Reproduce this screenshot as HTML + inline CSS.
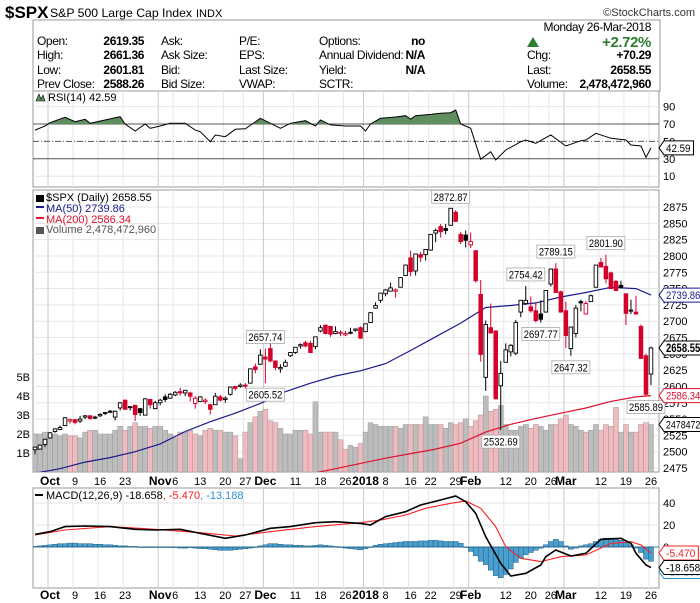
<!DOCTYPE html>
<html><head><meta charset="utf-8"><style>
html,body{margin:0;padding:0;background:#fff;}
svg{display:block;font-family:"Liberation Sans",Arial,sans-serif;}
#header text{letter-spacing:-0.4px;}
</style></head><body>
<svg id="c" width="700" height="603" viewBox="0 0 700 603" xmlns="http://www.w3.org/2000/svg">
<defs>
<clipPath id="mainClip"><rect x="33" y="190" width="626" height="282"/></clipPath>
<clipPath id="rsiClip"><rect x="33" y="91" width="626" height="96"/></clipPath>
<clipPath id="rsiTop"><rect x="33" y="91" width="626" height="33"/></clipPath>
<clipPath id="macdClip"><rect x="33" y="488" width="626" height="100"/></clipPath>
</defs>
<g>
<text x="5" y="18" font-size="17" font-weight="bold">$SPX</text>
<text x="50" y="17" font-size="12" textLength="142" lengthAdjust="spacingAndGlyphs">S&amp;P 500 Large Cap Index</text>
<text x="196" y="17" font-size="11">INDX</text>
<text x="695" y="16" font-size="11" text-anchor="end" fill="#333">©StockCharts.com</text>
</g>
<g id="header">
<rect x="33" y="20" width="627" height="71" fill="#fff" stroke="#999"/>
</g>
<g id="rsi"></g>
<g id="main"></g>
<g id="macd"></g>
</svg>
<script>
const dates=["Sep27","Sep28","Sep29"];
const opens=[2503,2504,2511,
2521,2531,2534,2540,2547,2549,2547,2553,2555,2552,2555,2559,2562,2553,2567,2579,2568,2571,2566,2556,2580,2566,
2575,2584,2582,2587,2592,2590,2590,2574,2577,2577,2572,2572,2584,2580,2588,2600,2600,2602,2605,2630,2634,
2645,2658,2639,2627,2631,2647,2652,2662,2667,2666,2661,2685,2694,2692,2681,2683,2679,2683,2686,2690,
2684,2698,2720,2732,2742,2746,2746,2752,2770,2797,2777,2802,2802,2809,2835,2845,2842,2847,2867,2833,2832,
2817,2808,2741,2614,2690,2685,2601,2637,2653,2651,2714,2727,2722,2716,2711,2714,2757,2780,2745,
2716,2658,2681,2730,2711,2730,2752,2790,2784,2774,2761,2755,2742,2716,2714,2692,2647,2619];
const highs=[2508,2511,2520,
2530,2536,2540,2553,2551,2550,2555,2556,2556,2555,2559,2561,2564,2563,2576,2580,2570,2572,2567,2582,2580,2578,
2581,2588,2590,2593,2598,2595,2592,2585,2585,2582,2573,2590,2587,2585,2600,2601,2605,2605,2627,2635,2657,
2658,2666,2640,2634,2641,2652,2660,2666,2670,2670,2676,2694,2694,2692,2692,2686,2685,2690,2689,2692,
2696,2714,2729,2743,2749,2759,2750,2767,2787,2808,2803,2806,2810,2833,2842,2849,2849,2873,2870,2837,2839,
2836,2809,2763,2701,2727,2686,2639,2666,2665,2702,2732,2754,2738,2728,2732,2747,2780,2789,2747,
2730,2692,2725,2733,2731,2741,2786,2797,2802,2776,2763,2762,2742,2733,2739,2695,2650,2661];
const lows=[2496,2503,2507,
2520,2529,2533,2539,2543,2542,2544,2550,2549,2550,2553,2556,2559,2548,2563,2564,2563,2547,2555,2556,2566,2565,
2571,2576,2581,2585,2586,2585,2577,2566,2577,2573,2557,2572,2577,2575,2586,2594,2598,2597,2605,2620,2633,
2605,2637,2625,2621,2630,2645,2650,2658,2660,2651,2657,2683,2680,2676,2680,2677,2677,2680,2684,2673,
2683,2697,2719,2728,2738,2747,2736,2752,2769,2769,2770,2791,2793,2808,2821,2828,2833,2846,2852,2818,2813,
2812,2759,2638,2593,2681,2580,2533,2637,2646,2648,2706,2725,2713,2698,2698,2713,2753,2744,2713,
2659,2647,2675,2715,2710,2730,2752,2783,2758,2749,2748,2750,2694,2711,2711,2642,2586,2602];
const closes=[2507,2510,2519,
2529,2535,2537,2552,2549,2545,2550,2555,2551,2553,2557,2560,2561,2562,2575,2565,2569,2557,2560,2581,2572,2575,
2579,2580,2588,2591,2590,2594,2585,2582,2584,2579,2565,2585,2579,2582,2599,2597,2602,2601,2627,2626,2648,
2642,2639,2629,2629,2637,2652,2660,2664,2662,2652,2676,2690,2681,2680,2684,2683,2681,2682,2688,2674,
2696,2713,2724,2743,2748,2751,2748,2767,2786,2776,2803,2798,2810,2833,2839,2837,2839,2873,2853,2822,2824,
2822,2762,2649,2695,2682,2581,2620,2656,2663,2698,2732,2732,2716,2701,2703,2747,2780,2744,2714,
2678,2691,2720,2728,2727,2739,2786,2783,2765,2750,2747,2752,2712,2717,2711,2643,2588,2659];
const volumes=[2.0,2.0,2.1,
2.0,2.0,1.9,2.0,1.9,1.9,1.8,2.1,2.2,2.2,2.0,2.0,2.0,2.2,2.4,2.2,2.4,2.6,2.4,2.4,2.3,2.4,
2.4,2.2,2.0,1.8,2.1,2.1,2.2,2.0,1.9,2.2,2.3,2.2,2.2,2.1,2.1,1.9,0.7,2.1,2.6,2.9,3.2,
3.3,2.7,2.6,2.3,2.0,2.0,2.2,2.2,2.2,2.0,3.7,2.1,2.1,2.1,2.1,1.7,1.2,1.4,1.3,1.5,
2.1,2.6,2.5,2.4,2.4,2.4,2.4,2.3,2.5,2.5,2.5,2.5,2.9,2.5,2.5,2.5,2.3,2.6,2.5,2.6,2.8,
2.4,2.7,3.0,4.0,3.2,3.3,3.5,2.5,2.2,2.2,2.4,2.5,2.3,2.5,2.4,2.2,2.5,2.5,2.8,
3.0,2.5,2.4,2.2,2.1,2.2,2.5,2.2,2.5,2.4,3.4,2.1,2.5,2.1,2.1,2.5,2.6,2.5];
const ma50Idx=[0,5,10,15,20,25,30,35,40,45,50,55,60,65,70,75,80,85,90,95,100,105,110,115,120,123];
const ma50Val=[2467,2474,2484,2491,2500,2512,2531,2546,2559,2574,2592,2605,2616,2624,2635,2655,2676,2697,2721,2724,2728,2737,2744,2752,2750,2740];
const ma200Idx=[55,60,65,70,75,80,85,90,95,100,105,110,115,120,123];
const ma200Val=[2466,2474,2482,2490,2497,2504,2513,2530,2542,2551,2559,2567,2577,2584,2586];
const rsiIdx=[0,2,3,6,8,10,11,14,17,18,20,22,23,25,27,30,32,33,35,36,38,40,42,45,47,49,51,54,56,57,59,62,65,66,67,69,72,74,75,76,79,81,83,84,85,87,89,91,92,94,97,98,100,103,106,109,110,112,115,118,119,121,122,123];
const rsiVal=[63,67.7,71.5,77.7,72.7,75.4,70.8,74.6,78.4,70,62,70,65,67.7,70.8,70.8,63,61.2,49.7,57.4,55.4,63.9,64.5,76.5,70.8,65,70.8,73.8,67.7,74.6,69,67.7,67.7,62,70,76.5,78,79.5,75.5,79.5,81,82.3,83,86.1,70,65,29.4,38.2,28.6,40.1,49.7,51.6,47.8,57.4,44.7,50.8,51.6,59.3,53.6,51.6,45.9,44.7,31.7,42.6];
const macdIdx=[0,3,6,10,15,20,24,29,33,38,42,47,51,56,60,65,67,70,74,77,81,84,86,88,90,93,95,98,101,102,104,107,110,113,117,119,120,122,123];
const macdVal=[11.5,13.9,18.5,19.1,18.5,16.1,15.5,16.1,12.4,7.9,10.9,17,18.5,22.1,23,21.5,20,27.6,32.1,38.2,42.7,46.4,41.2,30.6,9.4,-14.8,-26.4,-23.9,-16.4,-8.8,-2.7,-8.2,-5.7,7,7.9,3.3,-5.7,-16.4,-18.7];
const sigIdx=[0,6,15,24,33,40,47,56,65,69,74,78,83,86,89,92,94,97,101,105,110,115,119,121,123];
const sigVal=[10.9,15.5,18.5,16.1,13,10,13.9,18.5,22.1,24.5,29.1,35.2,39.7,41.8,35.2,18.5,0.3,-10.3,-13.3,-8.8,-7.3,3.3,4.8,1.8,-5.5];
const histVal=[0.5,1,1.5,
2,2.5,3,3,3.5,3.5,3,3,3,2.5,2.5,2,2,1.5,1,1,0.5,0.5,0,0,-0.5,0,
0,0,-0.5,-0.5,-1,-1,-0.5,-1,-1.5,-1.5,-2,-2.5,-3,-3,-3,-2.5,-2,-1.5,-1,0,1,
2,3,3,2.5,2,2,1.5,1.5,1,1,1.5,2,1.5,1,0.5,0,-1,-1.5,-2,-2.5,
-1.5,0,1.5,2.5,3,3.5,4,4.5,5,5,5,5.5,5.5,6,6,5.5,5,5,5,3.5,0,
-4,-8,-13,-16,-21,-26,-28,-25,-20,-14,-10,-7,-5,-3,-1,2,5,7,5,
1,-2,-1,1,2,3,5,7,8,8,7,6,4,2,-1,-5,-11,-13];
const dateLabels=["Oct","9","16","23","Nov","6","13","20","27","Dec","11","18","26","2018","8","16","22","29","Feb","12","20","26","Mar","12","19","26"];
const dateLabelIdx=[3,8,13,18,25,28,33,38,42,46,52,57,62,66,70,75,79,84,87,94,99,103,106,113,118,123];
const monthLabel=[1,0,0,0,1,0,0,0,0,1,0,0,0,1,0,0,0,0,1,0,0,0,1,0,0,0];
const priceTicks=[2475,2500,2525,2550,2575,2600,2625,2650,2675,2700,2725,2750,2775,2800,2825,2850,2875];
const volTicks=[1,2,3,4,5];
const rsiTicks=[10,30,50,70,90];
const macdTicks=[0,20,40];
const annIdx=[46,46,83,93,98,101,104,107,114,122];
const annType=["h","l","h","l","h","l","h","l","h","l"];
const annText=["2657.74","2605.52","2872.87","2532.69","2754.42","2697.77","2789.15","2647.32","2801.90","2585.89"];

const NS="http://www.w3.org/2000/svg";
const X=i=>35+i*5.008;
const PY=p=>207+(2875-p)*0.6525;
const VY=v=>472-v*19;
const RY=r=>124+(70-r)*0.87;
const MY=m=>547-m*1.1;
function mk(parent,tag,attrs,text){const e=document.createElementNS(NS,tag);for(const k in attrs)e.setAttribute(k,attrs[k]);if(text!==undefined)e.textContent=text;parent.appendChild(e);return e;}

// header
const H=document.getElementById('header');
const rowsY=[45,59,74,88];
const c1=["Open:","High:","Low:","Prev Close:"],v1=["2619.35","2661.36","2601.81","2588.26"];
const c2=["Ask:","Ask Size:","Bid:","Bid Size:"];
const c3=["P/E:","EPS:","Last Size:","VWAP:"];
const c4=["Options:","Annual Dividend:","Yield:","SCTR:"],v4=["no","N/A","N/A",""];
for(let r=0;r<4;r++){
 let t=mk(H,'text',{x:37,y:rowsY[r],'font-size':12},c1[r]);
 
 
 t=mk(H,'text',{x:144,y:rowsY[r],'font-size':12,'font-weight':'bold','text-anchor':'end'},v1[r]);
 
 
 t=mk(H,'text',{x:161,y:rowsY[r],'font-size':12},c2[r]);
 
 
 t=mk(H,'text',{x:239,y:rowsY[r],'font-size':12},c3[r]);
 
 
 t=mk(H,'text',{x:319,y:rowsY[r],'font-size':12},c4[r]);
 
 
 t=mk(H,'text',{x:425,y:rowsY[r],'font-size':12,'font-weight':'bold','text-anchor':'end'},v4[r]);
 
 
}
let ht=mk(H,'text',{x:651,y:31,'font-size':12,'text-anchor':'end'},"Monday  26-Mar-2018");


ht=mk(H,'polygon',{points:"527,47 533,37 539,47",fill:'#2e7d32'});


ht=mk(H,'text',{x:651,y:47,'font-size':15,'font-weight':'bold','text-anchor':'end',fill:'#2e7d32'},"+2.72%");


const rl=["Chg:","Last:","Volume:"],rv=["+70.29","2658.55","2,478,472,960"];
for(let r=0;r<3;r++){
 let t=mk(H,'text',{x:527,y:rowsY[r+1],'font-size':12},rl[r]);
 
 
 t=mk(H,'text',{x:651,y:rowsY[r+1],'font-size':12,'font-weight':'bold','text-anchor':'end'},rv[r]);
 
 
}

function vgrid(g,y1,y2){
 dateLabelIdx.forEach((d,k)=>{const l=mk(g,'line',{x1:X(d)-2,x2:X(d)-2,y1:y1,y2:y2,stroke:monthLabel[k]?'#c8c8c8':'#e6e6e6','stroke-width':1});
 
 });
}
function dateAxis(g,y){
 dateLabels.forEach((s,k)=>{const t=mk(g,'text',{x:X(dateLabelIdx[k]),y:y,'font-size':monthLabel[k]?12:11,'font-weight':monthLabel[k]?'bold':'normal','text-anchor':'middle'},s);
 
 });
}
function tag(g,y,txt,color,bold){
 const tw=txt.length*4.9;const w=tw+5;
 const p=mk(g,'polygon',{points:`659,${y} 664,${y-7} ${664+w},${y-7} ${664+w},${y+7} 664,${y+7}`,fill:'#fff',stroke:color,'stroke-width':1});
 
 
 const t=mk(g,'text',{x:666,y:y+4,'font-size':bold?12:11,'font-weight':bold?'bold':'normal',fill:color,textLength:tw,lengthAdjust:'spacingAndGlyphs'},txt);
 
 
}
function path(idx,val,fx,fy){return idx.map((d,k)=>(k?'L':'M')+fx(d).toFixed(1)+','+fy(val[k]).toFixed(1)).join('');}

// RSI panel
const R=document.getElementById('rsi');
let e=mk(R,'rect',{x:33,y:91,width:626,height:96,fill:'#fff',stroke:'#999'});


vgrid(R,91,187);
rsiTicks.forEach(v=>{
 const l=mk(R,'line',{x1:33,x2:659,y1:RY(v),y2:RY(v),stroke:(v==70||v==30||v==50)?'#555':'#e6e6e6','stroke-dasharray':v==50?'6,2,1,2':'none'});
 
 
 const t=mk(R,'text',{x:663,y:RY(v)+4,'font-size':11},String(v));
 
 
});
const rsiD=path(rsiIdx,rsiVal,X,RY);
e=mk(R,'path',{d:rsiD+`L${X(rsiIdx[rsiIdx.length-1])},${RY(70)}L${X(rsiIdx[0])},${RY(70)}Z`,fill:'#5f8f5f','clip-path':'url(#rsiTop)'});


e=mk(R,'path',{d:rsiD,fill:'none',stroke:'#000','stroke-width':1,'clip-path':'url(#rsiClip)'});


e=mk(R,'text',{x:48,y:101,'font-size':11},"RSI(14) 42.59");


e=mk(R,'polygon',{points:"36,101 39,94 41,99 43,95 45,101",fill:'#5f8f5f',stroke:'#000','stroke-width':0.6});


tag(R,RY(rsiVal[rsiVal.length-1]),"42.59",'#000',false);

// Main panel
const M=document.getElementById('main');
e=mk(M,'rect',{x:33,y:190,width:626,height:282,fill:'#fff',stroke:'#999'});


priceTicks.forEach(p=>{
 const l=mk(M,'line',{x1:33,x2:659,y1:PY(p),y2:PY(p),stroke:'#e6e6e6'});
 
 
 const t=mk(M,'text',{x:663,y:PY(p)+4,'font-size':11},String(p));
 
 
});
vgrid(M,190,472);
volTicks.forEach(v=>{
 const t=mk(M,'text',{x:30,y:VY(v)+4,'font-size':11,'text-anchor':'end'},v+"B");
 
 
});
const gv=mk(M,'g',{'clip-path':'url(#mainClip)'});


volumes.forEach((v,i)=>{
 const down=i>0&&closes[i]<closes[i-1];
 const b=mk(gv,'rect',{x:X(i)-2.5,y:VY(v),width:5,height:472-VY(v),fill:down?'#f2b9be':'#bdbdbd',stroke:'#9a9a9a','stroke-width':0.5});
 
 
});
e=mk(M,'path',{d:path(ma200Idx,ma200Val,X,PY),fill:'none',stroke:'#e0102f','stroke-width':1.2,'clip-path':'url(#mainClip)'});


e=mk(M,'path',{d:path(ma50Idx,ma50Val,X,PY),fill:'none',stroke:'#1a1a8c','stroke-width':1.2,'clip-path':'url(#mainClip)'});


const gc=mk(M,'g',{});


closes.forEach((c,i)=>{
 const col=(i>0&&c<closes[i-1])?'#d4002a':'#000';
 const o=opens[i];
 const w=mk(gc,'line',{x1:X(i),x2:X(i),y1:PY(highs[i]),y2:PY(lows[i]),stroke:col,'stroke-width':1});
 
 
 const top=PY(Math.max(o,c)),bot=PY(Math.min(o,c));
 const b=mk(gc,'rect',{x:X(i)-1.8,y:top,width:3.6,height:Math.max(1,bot-top),fill:c>=o?'#fff':col,stroke:col,'stroke-width':0.9});
 
 
});
annIdx.forEach((d,k)=>{
 const txt=annText[k];const tw=34;const w=tw+4;
 const hi=annType[k]=='h';
 const yy=hi?PY(highs[d])-18:PY(lows[d])+5;
 const r=mk(M,'rect',{x:X(d)-w/2,y:yy,width:w,height:13,fill:'#fff',stroke:'#aaa','stroke-width':0.8});
 
 
 const t=mk(M,'text',{x:X(d)-tw/2,y:yy+10.5,'font-size':11,textLength:tw,lengthAdjust:'spacingAndGlyphs'},txt);
 
 
});
const leg=[["$SPX (Daily) 2658.55",'#000',201],["MA(50) 2739.86",'#1a1a8c',212],["MA(200) 2586.34",'#e0102f',223],["Volume 2,478,472,960",'#555',233]];
leg.forEach((L,k)=>{
 const t=mk(M,'text',{x:46,y:L[2],'font-size':11,fill:L[1]},L[0]);
 
 
 const s=mk(M,'rect',{x:36,y:L[2]-6,width:8,height:k==0||k==3?7:2,fill:k==0?'#000':L[1]});
 
 
});
tag(M,PY(ma50Val[ma50Val.length-1]),"2739.86",'#1a1a8c',false);
tag(M,PY(closes[closes.length-1]),"2658.55",'#000',true);
tag(M,PY(ma200Val[ma200Val.length-1]),"2586.34",'#e0102f',false);
tag(M,VY(volumes[volumes.length-1]),"2478472",'#000',false);
dateAxis(M,485);

// MACD panel
const D=document.getElementById('macd');
e=mk(D,'rect',{x:33,y:488,width:626,height:100,fill:'#fff',stroke:'#999'});


vgrid(D,488,588);
macdTicks.forEach(v=>{
 const l=mk(D,'line',{x1:33,x2:659,y1:MY(v),y2:MY(v),stroke:'#e6e6e6'});
 
 
 const t=mk(D,'text',{x:663,y:MY(v)+4,'font-size':11},String(v));
 
 
});
const gh=mk(D,'g',{'clip-path':'url(#macdClip)'});


histVal.forEach((h,i)=>{
 const y0=MY(0),y1=MY(h);
 const b=mk(gh,'rect',{x:X(i)-2.5,y:Math.min(y0,y1),width:5,height:Math.max(0.5,Math.abs(y1-y0)),fill:'#4a9fcf',stroke:'#1f5f86','stroke-width':0.5});
 
 
});
e=mk(D,'line',{x1:33,x2:659,y1:MY(0),y2:MY(0),stroke:'#1f5f86','stroke-width':0.8});


e=mk(D,'path',{d:path(sigIdx,sigVal,X,MY),fill:'none',stroke:'#ff2020','stroke-width':1.1,'clip-path':'url(#macdClip)'});


e=mk(D,'path',{d:path(macdIdx,macdVal,X,MY),fill:'none',stroke:'#000','stroke-width':1.6,'clip-path':'url(#macdClip)'});


const lt=mk(D,'text',{x:46,y:499,'font-size':11});


mk(lt,'tspan',{fill:'#000'},"MACD(12,26,9) -18.658");
mk(lt,'tspan',{fill:'#ff2020'},", -5.470");
mk(lt,'tspan',{fill:'#2a8fd0'},", -13.188");
e=mk(D,'rect',{x:35,y:494,width:8,height:2,fill:'#000'});


tag(D,MY(-13.188)+10,"-13.188",'#2a8fd0',false);
tag(D,MY(-5.470),"-5.470",'#ff2020',false);
tag(D,MY(-18.658),"-18.658",'#000',false);
dateAxis(D,599);
</script>
</body></html>
